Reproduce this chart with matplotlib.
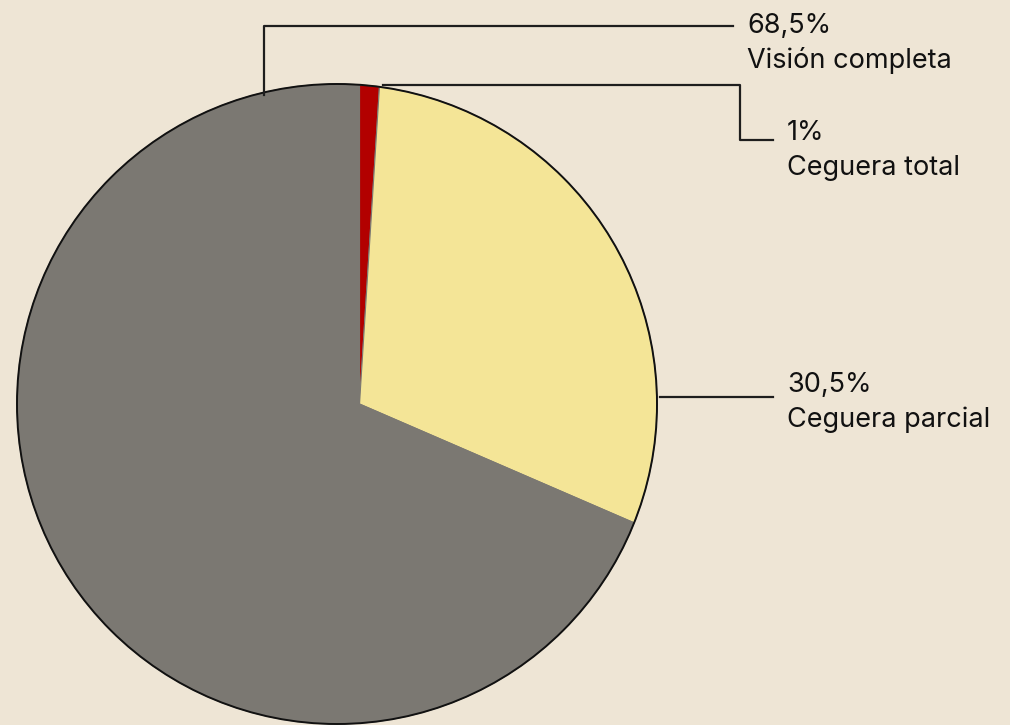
import numpy as np
import matplotlib.pyplot as plt
from matplotlib.patches import Polygon, Circle

# datos
etiquetas = ["Ceguera total", "Ceguera parcial", "Visión completa"]
valores = [1.0, 30.5, 68.5]
textos = ["1%", "30,5%", "68,5%"]
colores = ["#B20000", "#F4E597", "#7B7872"]

fondo = "#EEE5D5"
linea = "#1E1E1E"

# geometria en pixeles (y hacia abajo)
vertice = np.array([359.5, 404.0])
centro = np.array([337.0, 404.0])
radio = 320.0

plt.rcParams['font.family'] = ['Inter', 'DejaVu Sans']

fig = plt.figure(figsize=(10.1, 7.25), dpi=100)
fig.patch.set_facecolor(fondo)
ax = fig.add_axes([0, 0, 1, 1])
ax.set_facecolor(fondo)
ax.set_xlim(0, 1010)
ax.set_ylim(725, 0)
ax.set_aspect('equal')
ax.axis('off')


def punto_borde(phi):
    # rayo desde el vertice, phi en grados en sentido horario desde arriba
    d = np.array([np.sin(np.radians(phi)), -np.cos(np.radians(phi))])
    w = vertice - centro
    b = w.dot(d)
    t = -b + np.sqrt(b * b - (w.dot(w) - radio ** 2))
    return vertice + t * d


inicio = 0.0
for v, c in zip(valores, colores):
    fin = inicio + v / 100 * 360
    angs = np.linspace(inicio, fin, max(int(fin - inicio) * 2, 4))
    pts = [vertice] + [punto_borde(a) for a in angs]
    ax.add_patch(Polygon(pts, closed=True, facecolor=c, edgecolor="#7B7872", lw=0.8, zorder=2))
    inicio = fin

ax.add_patch(Circle(centro, radio, fill=False, edgecolor="#111111", lw=1.4, zorder=3))

# lineas de referencia
ax.plot([264, 264, 733], [95, 26, 26], color=linea, lw=1.6, zorder=4)
ax.plot([383, 740, 740, 773], [85, 85, 140, 140], color=linea, lw=1.6, zorder=4)
ax.plot([660, 773], [397, 397], color=linea, lw=1.6, zorder=4)

# textos
fs = 19.5
ax.text(747, 33, textos[2], fontsize=fs, color="#111111", va='baseline', ha='left')
ax.text(747, 68, etiquetas[2], fontsize=fs, color="#111111", va='baseline', ha='left')
ax.text(787, 140, textos[0], fontsize=fs, color="#111111", va='baseline', ha='left')
ax.text(787, 175, etiquetas[0], fontsize=fs, color="#111111", va='baseline', ha='left')
ax.text(787, 392, textos[1], fontsize=fs, color="#111111", va='baseline', ha='left')
ax.text(787, 427, etiquetas[1], fontsize=fs, color="#111111", va='baseline', ha='left')

fig.savefig("out.png", dpi=100, facecolor=fondo)
